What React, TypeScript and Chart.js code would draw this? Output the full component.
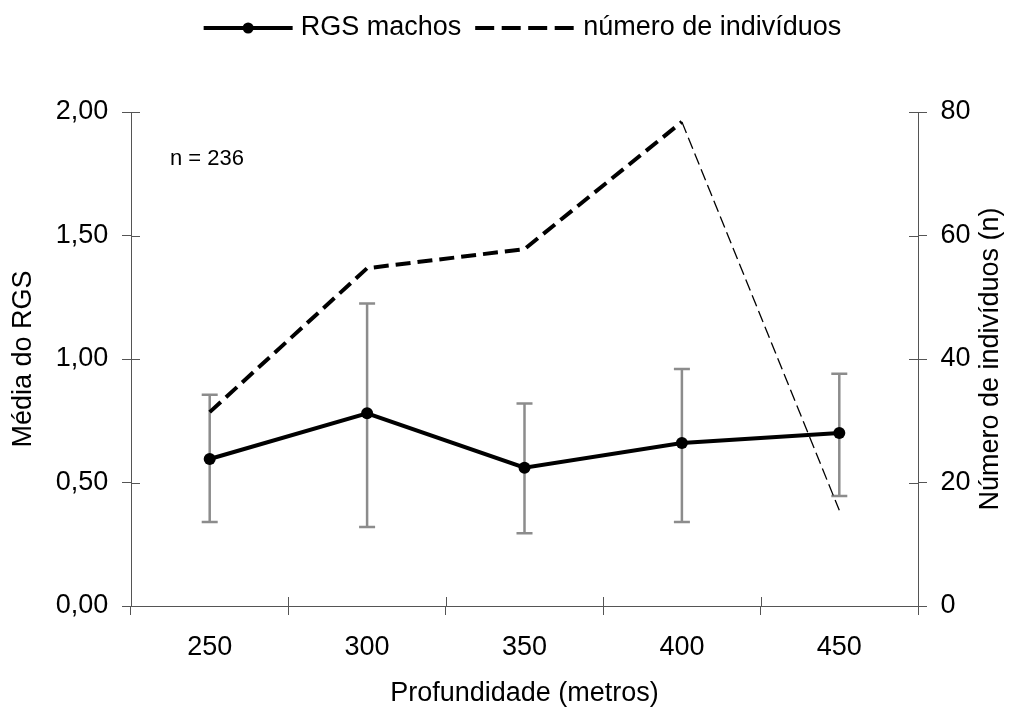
import React, { useEffect, useRef } from 'react';
import { Chart, registerables } from 'chart.js';

Chart.register(...registerables);

// ---------- data ----------
const categories = ['250', '300', '350', '400', '450'];
const rgsMeans = [0.595, 0.78, 0.56, 0.66, 0.7];
const rgsUpper = [0.855, 1.225, 0.82, 0.96, 0.94];
const rgsLower = [0.34, 0.32, 0.295, 0.34, 0.445];
const individuals = [31.4, 54.7, 57.8, 78.4, 15.5];

const legendLabels = ['RGS machos', 'número de indivíduos'];
const sampleNote = 'n = 236';
const yLeftTitle = 'Média do RGS';
const yRightTitle = 'Número de indivíduos (n)';
const xTitle = 'Profundidade (metros)';

// ---------- styles ----------
const FAMILY = '"Liberation Sans", Arial, Helvetica, sans-serif';
const FS = 27;
const AXIS = '#555555';
const ERR = '#8c8c8c';
const TICK = 9;

const errorBarsPlugin = {
  id: 'errorBars',
  beforeDatasetsDraw(chart: any) {
    const { ctx, scales } = chart;
    const xs = scales.x;
    const ys = scales.y;
    ctx.save();
    ctx.strokeStyle = ERR;
    ctx.lineWidth = 2.5;
    for (let i = 0; i < categories.length; i++) {
      const x = xs.getPixelForValue(i);
      const yt = ys.getPixelForValue(rgsUpper[i]);
      const yb = ys.getPixelForValue(rgsLower[i]);
      ctx.beginPath();
      ctx.moveTo(x, yt);
      ctx.lineTo(x, yb);
      ctx.moveTo(x - 8, yt);
      ctx.lineTo(x + 8, yt);
      ctx.moveTo(x - 8, yb);
      ctx.lineTo(x + 8, yb);
      ctx.stroke();
    }
    ctx.restore();
  },
};

const innerTicksPlugin = {
  id: 'innerTicks',
  afterDraw(chart: any) {
    const { ctx, scales, chartArea } = chart;
    ctx.save();
    ctx.strokeStyle = AXIS;
    ctx.lineWidth = 1;
    const yl = scales.y;
    yl.ticks.forEach((_t: any, i: number) => {
      const p = Math.round(yl.getPixelForTick(i)) + 0.5;
      ctx.beginPath();
      ctx.moveTo(chartArea.left, p);
      ctx.lineTo(chartArea.left + TICK, p);
      ctx.stroke();
    });
    const yr = scales.y1;
    yr.ticks.forEach((_t: any, i: number) => {
      const p = Math.round(yr.getPixelForTick(i)) + 0.5;
      ctx.beginPath();
      ctx.moveTo(chartArea.right - TICK, p);
      ctx.lineTo(chartArea.right, p);
      ctx.stroke();
    });
    const xs = scales.x;
    for (let i = 0; i <= categories.length; i++) {
      const p = Math.round(xs.getPixelForValue(i - 0.5)) + 0.5;
      ctx.beginPath();
      ctx.moveTo(p, chartArea.bottom - TICK);
      ctx.lineTo(p, chartArea.bottom);
      ctx.stroke();
    }
    ctx.restore();
  },
};

const annotationsPlugin = {
  id: 'annotations',
  afterDraw(chart: any) {
    const { ctx, chartArea } = chart;
    ctx.save();
    ctx.fillStyle = '#000';
    ctx.strokeStyle = '#000';

    // legend
    ctx.font = `${FS}px ${FAMILY}`;
    const w1 = ctx.measureText(legendLabels[0]).width;
    const w2 = ctx.measureText(legendLabels[1]).width;
    const line1 = 89;
    const line2 = 99;
    const total = line1 + 8 + w1 + 14 + line2 + 9 + w2;
    let x = (chartArea.left + chartArea.right) / 2 - 2 - total / 2;
    const ly = 28;
    ctx.lineWidth = 4;
    ctx.setLineDash([]);
    ctx.beginPath();
    ctx.moveTo(x, ly);
    ctx.lineTo(x + line1, ly);
    ctx.stroke();
    ctx.beginPath();
    ctx.arc(x + line1 / 2, ly, 5.5, 0, Math.PI * 2);
    ctx.fill();
    x += line1 + 8;
    ctx.textBaseline = 'alphabetic';
    ctx.textAlign = 'left';
    ctx.fillText(legendLabels[0], x, 34.5);
    x += w1 + 14;
    ctx.setLineDash([19, 7.5]);
    ctx.beginPath();
    ctx.moveTo(x, ly);
    ctx.lineTo(x + line2, ly);
    ctx.stroke();
    ctx.setLineDash([]);
    x += line2 + 9;
    ctx.fillText(legendLabels[1], x, 34.5);

    // sample size note
    ctx.font = `22px ${FAMILY}`;
    ctx.fillText(sampleNote, chartArea.left + 39, chartArea.top + 53);

    // right axis title (reads bottom-to-top)
    ctx.font = `${FS}px ${FAMILY}`;
    ctx.translate(chartArea.right + 80, (chartArea.top + chartArea.bottom) / 2);
    ctx.rotate(-Math.PI / 2);
    ctx.textAlign = 'center';
    ctx.fillText(yRightTitle, 0, 0);
    ctx.restore();
  },
};

export default function App() {
  const ref = useRef<HTMLCanvasElement | null>(null);

  useEffect(() => {
    document.body.style.margin = '0';
    document.body.style.overflow = 'hidden';
    const canvas = ref.current;
    if (!canvas) return;
    const font = { family: FAMILY, size: FS };
    const chart = new Chart(canvas, {
      type: 'line',
      data: {
        labels: categories,
        datasets: [
          {
            label: legendLabels[0],
            data: rgsMeans,
            yAxisID: 'y',
            borderColor: '#000',
            backgroundColor: '#000',
            borderWidth: 4,
            pointRadius: 6,
            pointBackgroundColor: '#000',
            pointBorderWidth: 0,
            tension: 0,
          },
          {
            label: legendLabels[1],
            data: individuals,
            yAxisID: 'y1',
            borderColor: '#000',
            borderWidth: 4,
            borderDash: [15, 7],
            pointRadius: 0,
            tension: 0,
            segment: {
              borderWidth: (c: any) => (c.p0DataIndex >= 3 ? 1.3 : 4),
              borderDash: (c: any) => (c.p0DataIndex >= 3 ? [12, 5] : [15, 7]),
            },
          } as any,
        ],
      },
      options: {
        responsive: false,
        animation: false,
        layout: { padding: { top: 112, left: 0, right: 0, bottom: 0 } },
        plugins: {
          legend: { display: false },
          tooltip: { enabled: false },
        },
        scales: {
          x: {
            type: 'category',
            offset: true,
            grid: { offset: true, drawOnChartArea: false, tickLength: TICK, color: AXIS },
            border: { color: AXIS, width: 1 },
            ticks: { font, color: '#000', padding: 16.8, maxRotation: 0 },
            title: { display: true, text: xTitle, font, color: '#000', padding: { top: 0, bottom: 3.1 } },
            afterFit: (s: any) => {
              s.height = 107;
            },
          },
          y: {
            position: 'left',
            min: 0,
            max: 2,
            grid: { drawOnChartArea: false, tickLength: TICK, color: AXIS },
            border: { color: AXIS, width: 1 },
            ticks: {
              stepSize: 0.5,
              font,
              color: '#000',
              padding: 13.7,
              callback: (v: any) => Number(v).toFixed(2).replace('.', ','),
            },
            title: { display: true, text: yLeftTitle, font, color: '#000', padding: { top: 7.8, bottom: 0 } },
            afterFit: (s: any) => {
              s.width = 131;
            },
          },
          y1: {
            position: 'right',
            min: 0,
            max: 80,
            grid: { drawOnChartArea: false, tickLength: TICK, color: AXIS },
            border: { color: AXIS, width: 1 },
            ticks: { stepSize: 20, font, color: '#000', padding: 13.4 },
            title: { display: false },
            afterFit: (s: any) => {
              s.width = 99;
            },
          },
        },
      } as any,
      plugins: [errorBarsPlugin, innerTicksPlugin, annotationsPlugin],
    });
    return () => chart.destroy();
  }, []);

  return (
    <div style={{ width: 1017, height: 713 }}>
      <canvas ref={ref} width={1017} height={713} style={{ display: 'block' }} />
    </div>
  );
}
